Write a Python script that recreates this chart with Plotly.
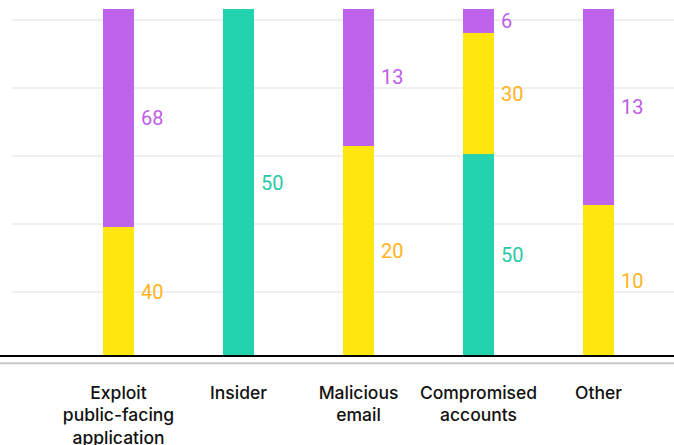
import plotly.graph_objects as go

categories = ["Exploit<br>public-facing<br>application", "Insider", "Malicious<br>email",
              "Compromised<br>accounts", "Other"]
series_names = ["Compromised accounts", "Malicious email", "Exploit public-facing application"]
teal_values = [None, 50, None, 50, None]
yellow_values = [40, None, 20, 30, 10]
purple_values = [68, None, 13, 6, 13]
grid_ticks = [20, 40, 60, 80, 100]

bar_colors = ["#23D2AE", "#FFE60F", "#C063EC"]
label_colors = ["#26C9A4", "#FFB320", "#BE5DE8"]
series = [teal_values, yellow_values, purple_values]

fig = go.Figure()
for name, vals, col in zip(series_names, series, bar_colors):
    fig.add_trace(go.Bar(x=categories, y=vals, name=name, marker=dict(color=col, line=dict(width=0)),
                         width=0.26, showlegend=False, hoverinfo="skip"))

# dummy trace so the grid axis is drawn
fig.add_trace(go.Scatter(x=[categories[0]], y=[None], yaxis="y2", showlegend=False, hoverinfo="skip"))

annotations = []
for i, cat in enumerate(categories):
    total = sum(s[i] for s in series if s[i] is not None)
    cum = 0
    for vals, lc in zip(series, label_colors):
        v = vals[i]
        if v is None:
            continue
        mid = (cum + v / 2) / total * 100
        cum += v
        annotations.append(dict(x=cat, y=mid, xref="x", yref="y", text=str(v), showarrow=False,
                                xanchor="left", yanchor="middle", xshift=20,
                                font=dict(family="Roboto", size=20, color=lc)))

fig.update_layout(
    width=674, height=445,
    margin=dict(l=12, r=0, t=9, b=89),
    barmode="stack", barnorm="percent",
    plot_bgcolor="white", paper_bgcolor="white",
    xaxis=dict(range=[-0.8875, 4.629], showgrid=False, showline=False, zeroline=False,
               ticks="", ticklabelstandoff=24, automargin=False,
               tickfont=dict(family="Inter", size=17.5, color="#111111", weight=500)),
    yaxis=dict(range=[0, 100], showgrid=False, zeroline=False, showticklabels=False, showline=False,
               automargin=False),
    yaxis2=dict(range=[1.18, 103.2], overlaying="y", tickvals=grid_ticks, showgrid=True,
                gridcolor="#EFEFEF", gridwidth=1.5, showticklabels=False, zeroline=False, showline=False,
                automargin=False),
    annotations=annotations,
    shapes=[
        dict(type="line", xref="paper", yref="paper", x0=-0.02, x1=1.0, y0=0, y1=0,
             line=dict(color="black", width=2), layer="above"),
        dict(type="line", xref="paper", yref="paper", x0=-0.02, x1=1.0, y0=-0.021, y1=-0.021,
             line=dict(color="#C8C8C8", width=2), layer="above"),
    ],
)

fig.write_html("out.html")
